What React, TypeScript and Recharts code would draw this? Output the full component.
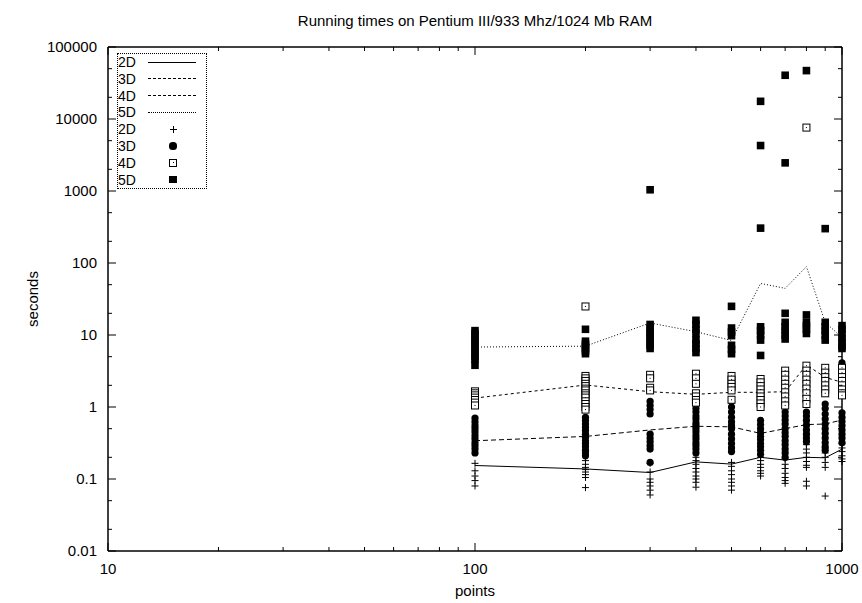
import React from 'react';
import { ComposedChart, XAxis, YAxis, Scatter, Line, Legend, Label, ReferenceLine } from 'recharts';

const FONT = '"Liberation Sans", Arial, Helvetica, sans-serif';

// ---------- data ----------
const xs = [100, 200, 300, 400, 500, 600, 700, 800, 900, 1000];
const seriesNames = ['2D', '3D', '4D', '5D'];

const mean2D = [0.154, 0.138, 0.123, 0.173, 0.161, 0.2, 0.183, 0.2, 0.197, 0.26];
const mean3D = [0.34, 0.39, 0.48, 0.54, 0.53, 0.43, 0.5, 0.57, 0.58, 0.66];
const mean4D = [1.33, 2.02, 1.63, 1.5, 1.6, 1.6, 1.63, 3.84, 2.58, 2.2];
const mean5D = [6.8, 7.0, 14.7, 11.1, 8.4, 52, 44.5, 89, 15, 9.2];

const runs2D = [
  [0.165, 0.13, 0.11, 0.095, 0.08],
  [0.18, 0.16, 0.145, 0.135, 0.125, 0.115, 0.105, 0.076],
  [0.165, 0.125, 0.1, 0.09, 0.08, 0.07, 0.06],
  [0.2, 0.18, 0.16, 0.14, 0.125, 0.11, 0.1, 0.09, 0.077],
  [0.17, 0.15, 0.13, 0.115, 0.1, 0.09, 0.08, 0.07],
  [0.2, 0.18, 0.16, 0.145, 0.13, 0.12, 0.11],
  [0.19, 0.16, 0.14, 0.12, 0.105, 0.095, 0.087],
  [0.3, 0.26, 0.23, 0.2, 0.175, 0.155, 0.145, 0.093, 0.08],
  [0.27, 0.23, 0.2, 0.17, 0.145, 0.058],
  [0.31, 0.27, 0.24, 0.21, 0.19, 0.175],
];
const runs3D = [
  [0.7, 0.62, 0.55, 0.5, 0.45, 0.4, 0.36, 0.32, 0.29, 0.26, 0.23],
  [0.72, 0.65, 0.58, 0.52, 0.47, 0.42, 0.38, 0.34, 0.31, 0.28, 0.25, 0.23, 0.21],
  [1.2, 1.05, 0.92, 0.8, 0.42, 0.37, 0.33, 0.29, 0.26, 0.17],
  [0.95, 0.85, 0.75, 0.68, 0.6, 0.55, 0.5, 0.45, 0.4, 0.36, 0.32, 0.29, 0.26, 0.23],
  [1.2, 1.0, 0.85, 0.72, 0.62, 0.55, 0.5, 0.42, 0.36, 0.31, 0.27, 0.24],
  [0.65, 0.57, 0.5, 0.44, 0.39, 0.35, 0.31, 0.28, 0.25, 0.22],
  [0.85, 0.75, 0.66, 0.58, 0.5, 0.44, 0.39, 0.34, 0.3, 0.26, 0.23, 0.2],
  [0.85, 0.75, 0.65, 0.56, 0.48, 0.42, 0.37, 0.33],
  [1.1, 0.95, 0.8, 0.68, 0.58, 0.5, 0.43, 0.37, 0.32, 0.28, 0.25],
  [4.1, 0.83, 0.72, 0.63, 0.55, 0.48, 0.42, 0.37, 0.32],
];
const runs4D = [
  [1.65, 1.55, 1.45, 1.35, 1.25, 1.15, 1.05],
  [24.9, 2.7, 2.5, 2.3, 2.1, 1.95, 1.8, 1.7, 1.55, 1.45, 1.35, 1.2, 1.1, 1.0, 0.92],
  [2.8, 2.5, 1.85, 1.7],
  [2.9, 2.5, 2.1, 1.55, 1.4, 1.25, 1.15],
  [2.7, 2.4, 2.1, 1.9, 1.7, 1.26],
  [2.45, 2.2, 1.95, 1.75, 1.55, 1.4, 1.25, 1.12, 1.0],
  [3.2, 2.8, 2.4, 2.1, 1.85, 1.6, 1.4, 1.2, 1.05],
  [7600, 3.75, 3.2, 2.8, 2.4, 2.1, 1.8, 1.55, 1.3, 1.1],
  [3.5, 3.0, 2.6, 2.3, 2.0, 1.75, 1.55],
  [3.5, 3.0, 2.6, 2.3, 2.0, 1.75, 1.55, 1.45],
];
const runs5D = [
  [11.5, 10.5, 9.5, 8.5, 7.8, 7, 6.3, 5.6, 5, 4.6, 3.8],
  [12, 8.2, 7.5, 7, 6.5, 6, 5.5],
  [1040, 14, 12.5, 11, 10, 9, 8, 7.2, 6.5],
  [16, 14, 12, 10.5, 8.5, 7.5, 6.5, 5.7],
  [25, 12.5, 11, 9.8, 7.2, 6.3, 5.5],
  [17600, 4280, 305, 13, 11.5, 10, 8.5, 5.2],
  [40500, 2460, 20, 15, 13, 11.5, 10, 8.8],
  [47000, 19, 15, 13.5, 12, 10.5],
  [300, 15, 13, 11.5, 10, 8.5],
  [13.5, 12, 10.5, 9, 8, 7, 6.5],
];

const xTicksMajor = [10, 100, 1000];
const xTickLabels = ['10', '100', '1000'];
const xTicksMinor = [20, 30, 40, 50, 60, 70, 80, 90, 200, 300, 400, 500, 600, 700, 800, 900];
const yTicksMajor = [0.01, 0.1, 1, 10, 100, 1000, 10000, 100000];
const yTickLabels = ['0.01', '0.1', '1', '10', '100', '1000', '10000', '100000'];
const yTicksMinor = [0.02, 0.05, 0.2, 0.5, 2, 5, 20, 50, 200, 500, 2000, 5000, 20000, 50000];

const xDomain = [10, 1000];
const yDomain = [0.01, 100000];

const title = 'Running times on Pentium III/933 Mhz/1024 Mb RAM';
const xLabel = 'points';
const yLabel = 'seconds';

// ---------- derived tables ----------
const toLine = (vals: number[]) => xs.map((x, i) => ({ x, y: vals[i] }));
const toPoints = (runs: number[][]) => xs.flatMap((x, i) => runs[i].map((y) => ({ x, y })));
const lineData = [mean2D, mean3D, mean4D, mean5D].map(toLine);
const pointData = [runs2D, runs3D, runs4D, runs5D].map(toPoints);
const dashes = [undefined, '5 3', '3 3', '1 2'];
const cssLineStyles = ['solid', 'dashed', 'dashed', 'dotted'];
const xAllTicks = [...xTicksMajor, ...xTicksMinor].sort((a, b) => a - b);
const yAllTicks = [...yTicksMajor, ...yTicksMinor].sort((a, b) => a - b);

// ---------- layout ----------
const W = 862;
const HGT = 603;
const MARGIN = { top: 47, right: 20, bottom: 0, left: 0 };
const PLOT_TOP = MARGIN.top;
const PLOT_RIGHT = W - MARGIN.right;

// ---------- markers ----------
const S = 3.5;
const PlusMark = ({ cx, cy }: any) => (
  <g stroke="#000" strokeWidth={1} fill="none">
    <line x1={cx - S} x2={cx + S} y1={cy} y2={cy} />
    <line x1={cx} x2={cx} y1={cy - S} y2={cy + S} />
  </g>
);
const CircleMark = ({ cx, cy }: any) => <circle cx={cx} cy={cy} r={3.6} fill="#000" />;
const OpenSquareMark = ({ cx, cy }: any) => (
  <g>
    <rect x={cx - S} y={cy - S} width={2 * S} height={2 * S} fill="#fff" stroke="#000" strokeWidth={1} />
    <rect x={cx - 0.5} y={cy - 0.5} width={1} height={1} fill="#000" />
  </g>
);
const FilledSquareMark = ({ cx, cy }: any) => (
  <rect x={cx - 3.8} y={cy - 3.8} width={7.6} height={7.6} fill="#000" />
);
const marks = [PlusMark, CircleMark, OpenSquareMark, FilledSquareMark];

// ---------- ticks (inward, mirrored on the opposite border) ----------
const M = 10;
const TICK_FS = 15;
const tickLen = (major: boolean) => (major ? 8 : 4);

const BottomTick = (props: any) => {
  const x = Number(props.x);
  const y = Number(props.y);
  const idx = xTicksMajor.indexOf(Number(props.payload.value));
  const len = tickLen(idx >= 0);
  const ay = y - M;
  return (
    <g>
      <line x1={x} x2={x} y1={ay} y2={ay - len} stroke="#000" strokeWidth={1} />
      <line x1={x} x2={x} y1={PLOT_TOP} y2={PLOT_TOP + len} stroke="#000" strokeWidth={1} />
      {idx >= 0 && (
        <text x={x} y={ay + 23} textAnchor="middle" fontSize={TICK_FS} fontFamily={FONT} fill="#000">
          {xTickLabels[idx]}
        </text>
      )}
    </g>
  );
};
const LeftTick = (props: any) => {
  const x = Number(props.x);
  const y = Number(props.y);
  const idx = yTicksMajor.indexOf(Number(props.payload.value));
  const len = tickLen(idx >= 0);
  const ax = x + M;
  return (
    <g>
      <line x1={ax} x2={ax + len} y1={y} y2={y} stroke="#000" strokeWidth={1} />
      <line x1={PLOT_RIGHT} x2={PLOT_RIGHT - len} y1={y} y2={y} stroke="#000" strokeWidth={1} />
      {idx >= 0 && (
        <text x={ax - 11} y={y + 5} textAnchor="end" fontSize={TICK_FS} fontFamily={FONT} fill="#000">
          {yTickLabels[idx]}
        </text>
      )}
    </g>
  );
};

// ---------- legend (plain HTML) ----------
const ROW_H = 16.8;
const abs = (o: any) => ({ position: 'absolute' as const, ...o });
const HtmlMark = ({ kind, cy }: { kind: number; cy: number }) => {
  const cx = 55;
  if (kind === 0)
    return (
      <>
        <div style={abs({ left: cx - 3.5, top: cy - 0.5, width: 7, height: 1, background: '#000' })} />
        <div style={abs({ left: cx - 0.5, top: cy - 3.5, width: 1, height: 7, background: '#000' })} />
      </>
    );
  if (kind === 1)
    return <div style={abs({ left: cx - 3.6, top: cy - 3.6, width: 7.2, height: 7.2, borderRadius: '50%', background: '#000' })} />;
  if (kind === 2)
    return (
      <>
        <div style={abs({ left: cx - 4, top: cy - 4, width: 8, height: 8, border: '1px solid #000', boxSizing: 'border-box' })} />
        <div style={abs({ left: cx - 0.5, top: cy - 0.5, width: 1, height: 1, background: '#000' })} />
      </>
    );
  return <div style={abs({ left: cx - 3.8, top: cy - 3.8, width: 7.6, height: 7.6, background: '#000' })} />;
};
const LegendBox = () => (
  <div
    style={{
      position: 'relative',
      width: 90,
      height: 136,
      border: '1px dotted #000',
      boxSizing: 'border-box',
      fontFamily: FONT,
      fontSize: 14,
      color: '#000',
      lineHeight: '16px',
    }}
  >
    {seriesNames.map((n, i) => {
      const cy = 8 + i * ROW_H;
      return (
        <React.Fragment key={'l' + n}>
          <div style={abs({ left: 0, top: cy - 8, height: 16 })}>{n}</div>
          <div style={abs({ left: 30, top: cy - 0.5, width: 48, height: 0, borderTop: `1px ${cssLineStyles[i]} #000` })} />
        </React.Fragment>
      );
    })}
    {seriesNames.map((n, i) => {
      const cy = 8 + (i + 4) * ROW_H;
      return (
        <React.Fragment key={'p' + n}>
          <div style={abs({ left: 0, top: cy - 8, height: 16 })}>{n}</div>
          <HtmlMark kind={i} cy={cy} />
        </React.Fragment>
      );
    })}
  </div>
);

const axisLineStyle = { stroke: '#000', strokeWidth: 1.5 };

export default function App() {
  return (
    <div style={{ position: 'absolute', left: 0, top: 0, width: W, height: HGT, background: '#fff' }}>
      <ComposedChart width={W} height={HGT} margin={MARGIN}>
        <XAxis
          xAxisId="b"
          dataKey="x"
          type="number"
          scale="log"
          domain={xDomain}
          ticks={xAllTicks}
          interval={0}
          height={52}
          tickSize={0}
          tickMargin={M}
          tickLine={false}
          axisLine={axisLineStyle}
          tick={BottomTick}
        >
          <Label value={xLabel} position="insideBottom" offset={7} fontSize={15} fill="#000" fontFamily={FONT} />
        </XAxis>
        <YAxis
          yAxisId="l"
          dataKey="y"
          type="number"
          scale="log"
          domain={yDomain}
          ticks={yAllTicks}
          interval={0}
          width={108}
          tickSize={0}
          tickMargin={M}
          tickLine={false}
          axisLine={axisLineStyle}
          tick={LeftTick}
        >
          <Label
            value={yLabel}
            angle={-90}
            position="insideLeft"
            offset={33}
            fontSize={15}
            fill="#000"
            fontFamily={FONT}
            style={{ textAnchor: 'middle' }}
          />
        </YAxis>
        {/* top and right borders of the frame */}
        <ReferenceLine xAxisId="b" yAxisId="l" y={yDomain[1]} stroke="#000" strokeWidth={1.5} ifOverflow="visible">
          <Label value={title} position="top" offset={21} fontSize={15} fill="#000" fontFamily={FONT} />
        </ReferenceLine>
        <ReferenceLine xAxisId="b" yAxisId="l" x={xDomain[1]} stroke="#000" strokeWidth={1.5} ifOverflow="visible" />
        {lineData.map((d, i) => (
          <Line
            key={'line' + i}
            xAxisId="b"
            yAxisId="l"
            data={d}
            dataKey="y"
            name={seriesNames[i]}
            stroke="#000"
            strokeWidth={1}
            strokeDasharray={dashes[i]}
            dot={false}
            activeDot={false}
            type="linear"
            isAnimationActive={false}
          />
        ))}
        {pointData.map((d, i) => {
          const Mk = marks[i];
          return (
            <Scatter
              key={'pts' + i}
              xAxisId="b"
              yAxisId="l"
              data={d}
              dataKey="y"
              name={seriesNames[i]}
              shape={(p: any) => <Mk cx={p.cx} cy={p.cy} />}
              isAnimationActive={false}
            />
          );
        })}
        <Legend
          layout="vertical"
          align="center"
          verticalAlign="middle"
          wrapperStyle={{ left: 117, top: 53, width: 90, height: 136 }}
          content={() => <LegendBox />}
        />
      </ComposedChart>
    </div>
  );
}
